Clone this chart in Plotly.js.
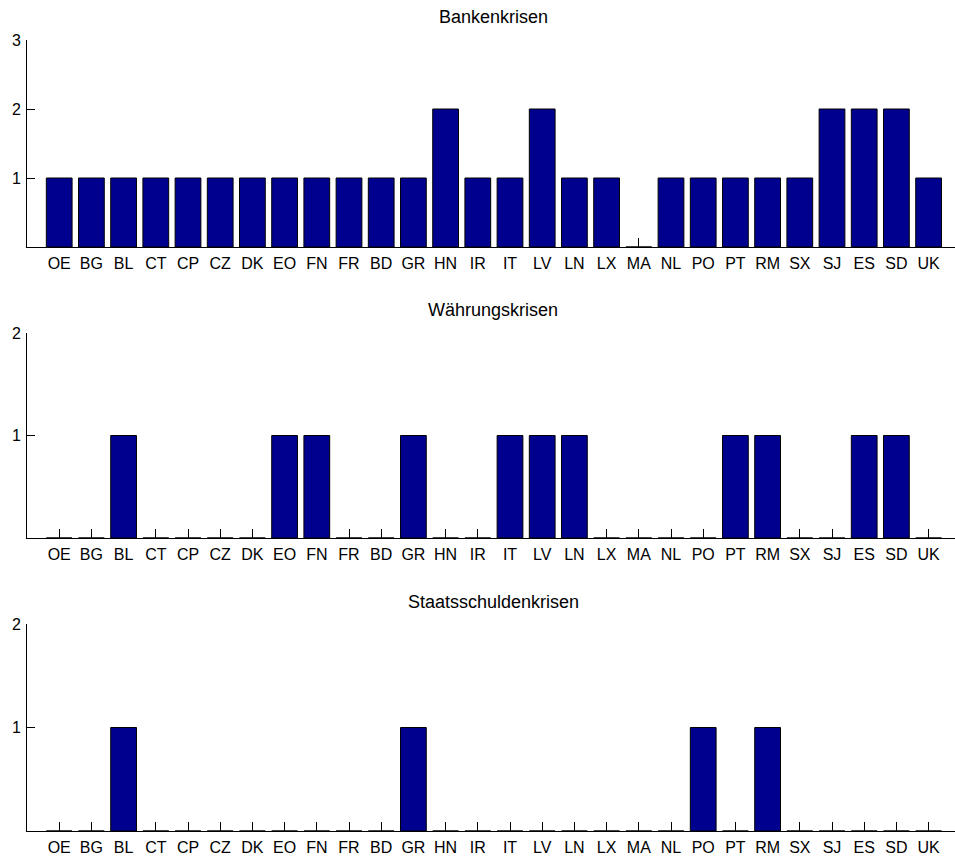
<!DOCTYPE html>
<html>
<head>
<meta charset="utf-8">
<script src="https://cdn.plot.ly/plotly-3.0.1.min.js"></script>
<style>html,body{margin:0;padding:0;background:#fff;}#chart{width:955px;height:859px;}</style>
</head>
<body>
<div id="chart"></div>
<script>
const countries = ["OE","BG","BL","CT","CP","CZ","DK","EO","FN","FR","BD","GR","HN","IR","IT","LV","LN","LX","MA","NL","PO","PT","RM","SX","SJ","ES","SD","UK"];
const bankenkrisen =       [1,1,1,1,1,1,1,1,1,1,1,1,2,1,1,2,1,1,0,1,1,1,1,1,2,2,2,1];
const waehrungskrisen =    [0,0,1,0,0,0,0,1,1,0,0,1,0,0,1,1,1,0,0,0,0,1,1,0,0,1,1,0];
const staatsschuldenkrisen=[0,0,1,0,0,0,0,0,0,0,0,1,0,0,0,0,0,0,0,0,1,0,1,0,0,0,0,0];
const titles = ["Bankenkrisen","Währungskrisen","Staatsschuldenkrisen"];
const yTicks1 = [1,2,3];
const yTicks23 = [1,2];

const H = 859;
const font = {family:"Liberation Sans, Arial, sans-serif", size:16, color:"#000"};
const series = [bankenkrisen, waehrungskrisen, staatsschuldenkrisen];
const yPix = [[40,247],[333,538],[624,831]];
const yRanges = [[0,3],[0,2],[0,2]];
const yTickSets = [yTicks1, yTicks23, yTicks23];
const titleY = [17,310,602];

const traces = series.map((vals,i)=>({
  type:"bar",
  x: countries,
  y: vals,
  xaxis: i===0 ? "x" : "x"+(i+1),
  yaxis: i===0 ? "y" : "y"+(i+1),
  marker:{color:"#00008F", line:{color:"#000", width:1}},
  hoverinfo:"x+y",
  showlegend:false
}));

const layout = {
  width:955, height:859,
  margin:{l:27, r:0, t:0, b:0},
  paper_bgcolor:"#fff", plot_bgcolor:"rgba(0,0,0,0)",
  bargap:0.2,
  font: font,
  annotations: [],
  showlegend:false
};

for (let i=0;i<3;i++){
  const xs = i===0 ? "xaxis" : "xaxis"+(i+1);
  const ys = i===0 ? "yaxis" : "yaxis"+(i+1);
  const yid = i===0 ? "y" : "y"+(i+1);
  const xid = i===0 ? "x" : "x"+(i+1);
  layout[xs] = {
    type:"category",
    domain:[0,1],
    anchor:yid,
    range:[-1, 27.82],
    tickmode:"array",
    tickvals:countries,
    ticktext:countries,
    ticks:"inside", ticklen:9, tickwidth:1, tickcolor:"#000",
    showline:true, linecolor:"#000", linewidth:1,
    showgrid:false, zeroline:false,
    layer:"below traces",
    tickfont:font,
    ticklabelstandoff:2,
    fixedrange:true
  };
  layout[ys] = {
    domain:[1-yPix[i][1]/H, 1-yPix[i][0]/H],
    anchor:xid,
    range:yRanges[i],
    tickmode:"array",
    tickvals:yTickSets[i],
    ticktext:yTickSets[i].map(String),
    ticks:"inside", ticklen:8, tickwidth:1, tickcolor:"#000",
    showline:true, linecolor:"#000", linewidth:1,
    showgrid:false, zeroline:false,
    layer:"below traces",
    tickfont:font,
    ticklabelstandoff:2,
    fixedrange:true
  };
  layout.annotations.push({
    text:titles[i], xref:"paper", yref:"paper",
    x:(493-27)/928, y:1-titleY[i]/H,
    xanchor:"center", yanchor:"middle",
    showarrow:false,
    font:{family:font.family, size:18, color:"#000"}
  });
}

Plotly.newPlot("chart", traces, layout, {displayModeBar:false, staticPlot:true});
</script>
</body>
</html>
